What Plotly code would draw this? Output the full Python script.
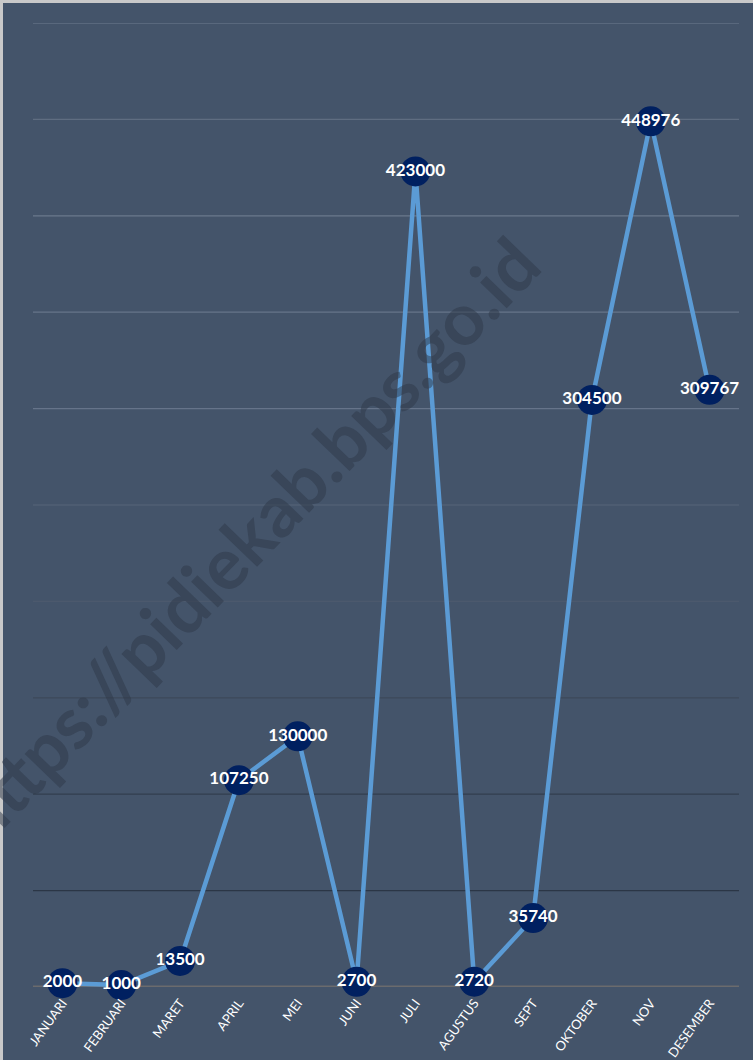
import plotly.graph_objects as go

months = ["JANUARI", "FEBRUARI", "MARET", "APRIL", "MEI", "JUNI",
          "JULI", "AGUSTUS", "SEPT", "OKTOBER", "NOV", "DESEMBER"]
values = [2000, 1000, 13500, 107250, 130000, 2700,
          423000, 2720, 35740, 304500, 448976, 309767]
grid_values = [50000, 100000, 150000, 200000, 250000,
               300000, 350000, 400000, 450000, 500000]
grid_colors = ["#2b3646", "#323e4f", "#3c485a", "#4c596d", "#566478",
               "#66748a", "#66748a", "#6a788c", "#5f6d81", "#6e7c90"]
watermark = "https://pidiekab.bps.go.id"

W, H = 753, 1060
L, R, T, B = 33, 14, 23, 73

fig = go.Figure()
fig.add_trace(go.Scatter(
    x=months, y=values,
    mode="lines+markers+text",
    line=dict(color="#5b9bd5", width=4.5),
    marker=dict(size=30, color="#002060", line=dict(width=0)),
    text=[str(v) for v in values],
    textposition="middle center",
    textfont=dict(family="Lato", size=17, color="white", weight="bold"),
    cliponaxis=False,
    showlegend=False,
))

# gridlines with slightly varying shades
for gv, gc in zip(grid_values, grid_colors):
    fig.add_shape(type="line", xref="paper", yref="y", x0=0, x1=1, y0=gv, y1=gv,
                  line=dict(color=gc, width=1.2), layer="below")
# baseline
fig.add_shape(type="line", xref="paper", yref="y", x0=0, x1=1, y0=0, y1=0,
              line=dict(color="#6b6b6d", width=3), layer="below")

# outer light border (top and left)
pw, ph = W - L - R, H - T - B
fig.add_shape(type="line", xref="paper", yref="paper",
              x0=-(L - 1.5) / pw, x1=-(L - 1.5) / pw, y0=-B / ph, y1=1 + T / ph,
              line=dict(color="#c9c9c9", width=3))
fig.add_shape(type="line", xref="paper", yref="paper",
              x0=-L / pw, x1=1 + R / pw, y0=1 + (T - 1.5) / ph, y1=1 + (T - 1.5) / ph,
              line=dict(color="#c9c9c9", width=3))

fig.add_annotation(
    text=watermark, xref="paper", yref="paper", x=0.3, y=0.465,
    xanchor="center", yanchor="middle",
    showarrow=False, textangle=-46,
    font=dict(family="Lato", size=72, color="rgba(45,56,72,0.5)", weight="bold"),
)

fig.update_layout(
    width=W, height=H,
    margin=dict(l=L, r=R, t=T, b=B),
    paper_bgcolor="#44546a",
    plot_bgcolor="#44546a",
    xaxis=dict(range=[-0.5, 11.5], showgrid=False, zeroline=False, showline=False,
               tickangle=-54, ticks="", automargin=False, ticklabelstandoff=5,
               tickfont=dict(family="Lato", size=13, color="white")),
    yaxis=dict(range=[0, 500000], showgrid=False, zeroline=False, showline=False,
               showticklabels=False, ticks="", automargin=False),
)

fig.write_html("out.html", config={"displayModeBar": False},
               post_script="document.body.style.margin='0';")
